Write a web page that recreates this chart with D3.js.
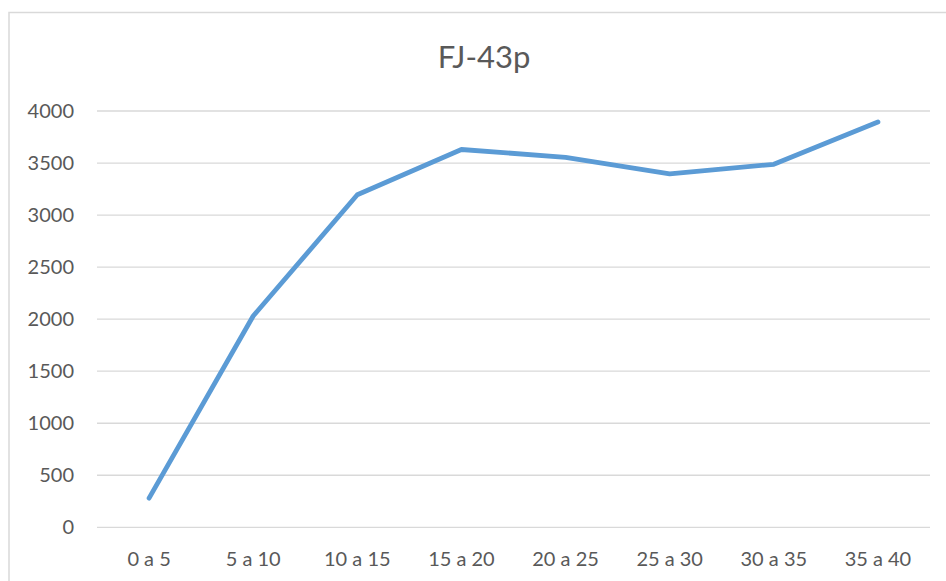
<!DOCTYPE html>
<html>
<head>
<meta charset="utf-8">
<script src="https://cdn.jsdelivr.net/npm/d3@7"></script>
<style>
  html, body { margin: 0; padding: 0; background: #fff; }
  svg { display: block; }
</style>
</head>
<body>
<svg id="chart" width="946" height="581"></svg>
<script>
// Chart data
const title = "FJ-43p";
const categories = ["0 a 5", "5 a 10", "10 a 15", "15 a 20", "20 a 25", "25 a 30", "30 a 35", "35 a 40"];
const values = [280, 2030, 3195, 3630, 3555, 3395, 3488, 3895];
const yTicks = [0, 500, 1000, 1500, 2000, 2500, 3000, 3500, 4000];

const W = 946, H = 581;
const margin = { top: 111, right: 16, bottom: 54, left: 97 };
const plotW = 930 - margin.left;
const plotH = 527.3 - margin.top;

const svg = d3.select("#chart");
const font = "Lato, 'Open Sans', sans-serif";
const textColor = "#595959";
const gridColor = "#d9d9d9";

// Chart area frame
svg.append("rect")
  .attr("x", 9).attr("y", 12.5)
  .attr("width", W + 10).attr("height", H + 10)
  .attr("fill", "none")
  .attr("stroke", gridColor)
  .attr("stroke-width", 1.5);

const x = d3.scaleBand().domain(categories).range([margin.left, margin.left + plotW]);
const y = d3.scaleLinear().domain([0, 4000]).range([margin.top + plotH, margin.top]);

// Horizontal gridlines
svg.append("g")
  .selectAll("line")
  .data(yTicks)
  .join("line")
  .attr("x1", margin.left).attr("x2", margin.left + plotW)
  .attr("y1", d => y(d)).attr("y2", d => y(d))
  .attr("stroke", gridColor)
  .attr("stroke-width", 1.3);

// Y axis labels
const yAxis = d3.axisLeft(y).tickValues(yTicks).tickFormat(d3.format("d")).tickSize(0).tickPadding(0);
const gy = svg.append("g")
  .attr("transform", `translate(74,0)`)
  .call(yAxis);
gy.select(".domain").remove();
gy.selectAll("text")
  .attr("fill", textColor)
  .attr("font-family", font)
  .attr("font-size", "20px");

// X axis labels
const xAxis = d3.axisBottom(x).tickSize(0).tickPadding(0);
const gx = svg.append("g")
  .attr("transform", `translate(0,552)`)
  .call(xAxis);
gx.select(".domain").remove();
gx.selectAll("text")
  .attr("fill", textColor)
  .attr("font-family", font)
  .attr("font-size", "20px");

// Series line
const line = d3.line()
  .x((d, i) => x(categories[i]) + x.bandwidth() / 2)
  .y(d => y(d));

svg.append("path")
  .datum(values)
  .attr("d", line)
  .attr("fill", "none")
  .attr("stroke", "#5b9bd5")
  .attr("stroke-width", 4.8)
  .attr("stroke-linejoin", "round")
  .attr("stroke-linecap", "round");

// Title
svg.append("text")
  .attr("x", 484).attr("y", 68)
  .attr("text-anchor", "middle")
  .attr("fill", textColor)
  .attr("font-family", font)
  .attr("font-size", "31px")
  .text(title);
</script>
</body>
</html>
